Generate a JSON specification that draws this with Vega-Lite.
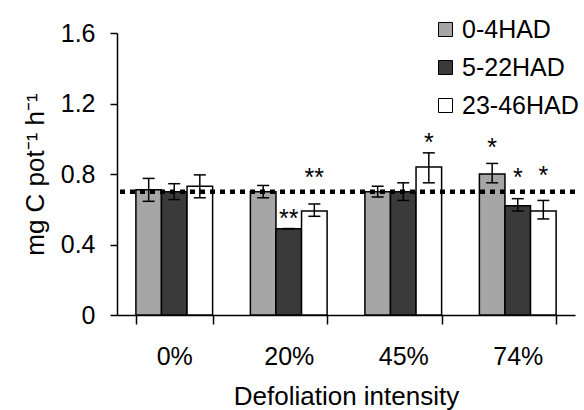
{
  "$schema": "https://vega.github.io/schema/vega-lite/v6.json",
  "autosize": "none",
  "width": 458,
  "height": 282,
  "padding": {"left": 117, "top": 33, "right": 9, "bottom": 95},
  "config": {
    "view": {"stroke": null},
    "font": "Liberation Sans",
    "axis": {"domainColor": "black", "tickColor": "black", "labelColor": "black", "titleColor": "black", "domainWidth": 1.5, "tickWidth": 1.5, "grid": false, "labelFont": "Liberation Sans", "titleFont": "Liberation Sans", "labelFontSize": 25, "titleFontSize": 26, "titleFontWeight": "normal"}
  },
  "datasets": {
    "bars": [
      {"intensity": "0%", "period": "0-4HAD", "mean": 0.71, "lo": 0.645, "hi": 0.775},
      {"intensity": "0%", "period": "5-22HAD", "mean": 0.70, "lo": 0.655, "hi": 0.745},
      {"intensity": "0%", "period": "23-46HAD", "mean": 0.73, "lo": 0.665, "hi": 0.795},
      {"intensity": "20%", "period": "0-4HAD", "mean": 0.70, "lo": 0.665, "hi": 0.735},
      {"intensity": "20%", "period": "5-22HAD", "mean": 0.49, "lo": 0.49, "hi": 0.49},
      {"intensity": "20%", "period": "23-46HAD", "mean": 0.59, "lo": 0.56, "hi": 0.63},
      {"intensity": "45%", "period": "0-4HAD", "mean": 0.70, "lo": 0.67, "hi": 0.73},
      {"intensity": "45%", "period": "5-22HAD", "mean": 0.70, "lo": 0.65, "hi": 0.75},
      {"intensity": "45%", "period": "23-46HAD", "mean": 0.84, "lo": 0.75, "hi": 0.92},
      {"intensity": "74%", "period": "0-4HAD", "mean": 0.80, "lo": 0.75, "hi": 0.86},
      {"intensity": "74%", "period": "5-22HAD", "mean": 0.62, "lo": 0.59, "hi": 0.66},
      {"intensity": "74%", "period": "23-46HAD", "mean": 0.59, "lo": 0.545, "hi": 0.65}
    ],
    "stars": [
      {"intensity": "20%", "period": "5-22HAD", "sig": "**", "pos": 0.58},
      {"intensity": "20%", "period": "23-46HAD", "sig": "**", "pos": 0.81},
      {"intensity": "45%", "period": "23-46HAD", "sig": "*", "pos": 1.01},
      {"intensity": "74%", "period": "0-4HAD", "sig": "*", "pos": 0.98},
      {"intensity": "74%", "period": "5-22HAD", "sig": "*", "pos": 0.81},
      {"intensity": "74%", "period": "23-46HAD", "sig": "*", "pos": 0.82}
    ],
    "ref": [{"level": 0.70}]
  },
  "encoding": {
    "x": {
      "field": "intensity", "type": "nominal", "sort": ["0%", "20%", "45%", "74%"],
      "scale": {"paddingInner": 0.33, "paddingOuter": 0.165},
      "axis": {"title": "Defoliation intensity", "labelAngle": 0, "tickBand": "extent", "tickSize": 9, "labelPadding": 20, "titlePadding": 14}
    },
    "xOffset": {"field": "period", "type": "nominal", "sort": ["0-4HAD", "5-22HAD", "23-46HAD"]}
  },
  "layer": [
    {
      "data": {"name": "bars"},
      "mark": {"type": "bar", "stroke": "black", "strokeWidth": 1.5},
      "encoding": {
        "y": {
          "field": "mean", "type": "quantitative",
          "scale": {"domain": [0, 1.6]},
          "axis": {"title": "mg C pot⁻¹ h⁻¹", "values": [0, 0.4, 0.8, 1.2, 1.6], "labelExpr": "datum.value == 0 ? '0' : format(datum.value, '.1f')", "tickSize": 7, "labelPadding": 15, "titlePadding": 12}
        },
        "fill": {
          "field": "period", "type": "nominal", "sort": ["0-4HAD", "5-22HAD", "23-46HAD"],
          "scale": {"domain": ["0-4HAD", "5-22HAD", "23-46HAD"], "range": ["#a6a6a6", "#3a3a3a", "#ffffff"]},
          "legend": {"title": null, "orient": "none", "legendX": 316, "legendY": -16, "symbolType": "square", "symbolSize": 196, "symbolStrokeColor": "black", "symbolStrokeWidth": 1, "symbolOpacity": 1, "labelFontSize": 25, "labelFont": "Liberation Sans", "labelColor": "black", "labelOffset": 4, "rowPadding": 12}
        }
      }
    },
    {
      "data": {"name": "bars"},
      "mark": {"type": "rule", "stroke": "black", "strokeWidth": 1.5},
      "encoding": {"y": {"field": "lo", "type": "quantitative"}, "y2": {"field": "hi"}}
    },
    {
      "data": {"name": "bars"},
      "mark": {"type": "tick", "color": "black", "size": 12, "thickness": 1.5, "opacity": 1},
      "encoding": {"y": {"field": "lo", "type": "quantitative"}}
    },
    {
      "data": {"name": "bars"},
      "mark": {"type": "tick", "color": "black", "size": 12, "thickness": 1.5, "opacity": 1},
      "encoding": {"y": {"field": "hi", "type": "quantitative"}}
    },
    {
      "data": {"name": "ref"},
      "mark": {"type": "rule", "stroke": "black", "strokeWidth": 4.5, "strokeDash": [5, 5]},
      "encoding": {"y": {"field": "level", "type": "quantitative"}, "x": null, "xOffset": null}
    },
    {
      "data": {"name": "stars"},
      "mark": {"type": "text", "fontSize": 25, "font": "Liberation Sans", "color": "black", "baseline": "alphabetic", "dy": 14},
      "encoding": {"y": {"field": "pos", "type": "quantitative"}, "text": {"field": "sig"}}
    }
  ]
}
